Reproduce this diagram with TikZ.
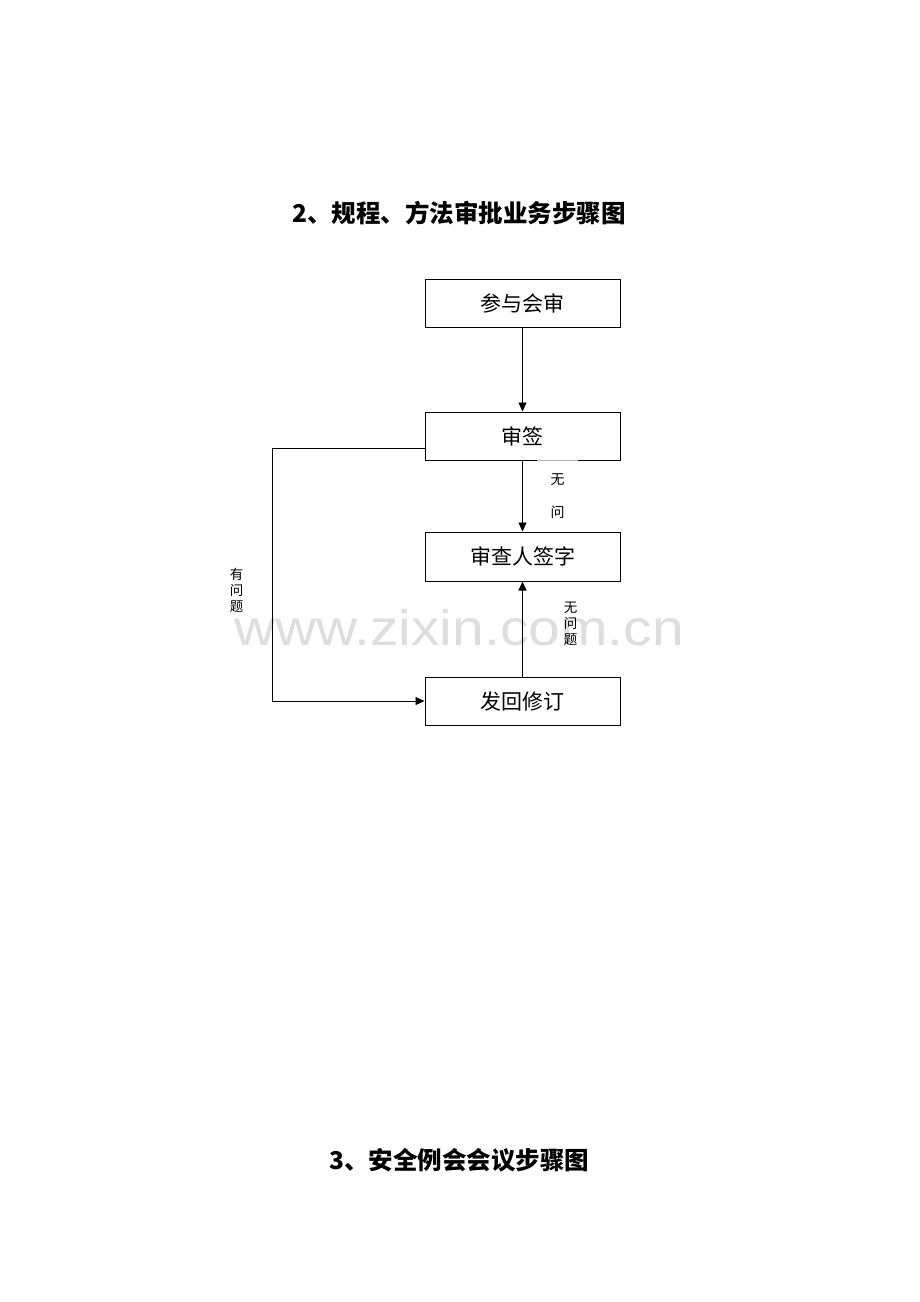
\documentclass[tikz,border=0pt]{standalone}
\usepackage{fontspec}
\newfontfamily\cjk{Noto Sans CJK SC}
\newfontfamily\wmfont{Liberation Sans}
\usetikzlibrary{arrows.meta,positioning}

\begin{document}
\begin{tikzpicture}[
    x=1pt, y=-1pt,
    stepbox/.style={
        rectangle, % shape
        minimum width = 195pt, %size
        minimum height = 48pt,
        line width = 1pt, %border
        draw = black,
        fill = white,
        font=\cjk\fontsize{21}{25}\selectfont %font
      },
    flow/.style={
        % The line
        line width=0.9pt,
        % The tip
        -{Triangle[length=9pt,width=8pt]}},
    note/.style={
        % The stacked labels
        align=center,
        inner sep=0pt,
        font=\cjk\fontsize{13.5}{16}\selectfont},
    heading/.style={
        font=\cjk\bfseries\fontsize{24.5}{29}\selectfont}
  ]
  \useasboundingbox (0,0) rectangle (920,1302);
  % watermark behind everything
  \node (mark) [text=black!13, font=\wmfont\fontsize{50}{60}\selectfont,
    xscale=1.14, inner sep=0pt, anchor=base] at (459,645) {www.zixin.com.cn};
  \node (title) [heading] at (459,213) {2、规程、方法审批业务步骤图};
  \node (shenhui) [stepbox] at (522.5,303) {参与会审};
  \node (shenqian) [stepbox] at (522.5,436) {审签};
  \node (qianzi) [stepbox, minimum height=49pt] at (522.5,556.5) {审查人签字};
  \node (xiuding) [stepbox] at (522.5,701) {发回修订};
  \coordinate (bend) at (272,448);
  \draw[flow] (shenhui) -- (shenqian);
  \draw[flow] (shenqian) -- (qianzi);
  \draw[flow] (xiuding) -- (qianzi);
  \draw[flow] ([yshift=-12pt]shenqian.west) -- (bend) |- (xiuding.west);
  % labels
  \node (ok1) [note, fill=white, fill opacity=0.7, text opacity=1,
    minimum width=41pt, minimum height=72pt,
    font=\cjk\fontsize{14}{33}\selectfont] at (557.5,496) {无\\问};
  \node (ok2) [note] at (570.5,623.5) {无\\问\\题};
  \node (bad) [note] at (236.5,590) {有\\问\\题};
  \node (title2) [heading] at (459.5,1160) {3、安全例会会议步骤图};
\end{tikzpicture}
\end{document}
